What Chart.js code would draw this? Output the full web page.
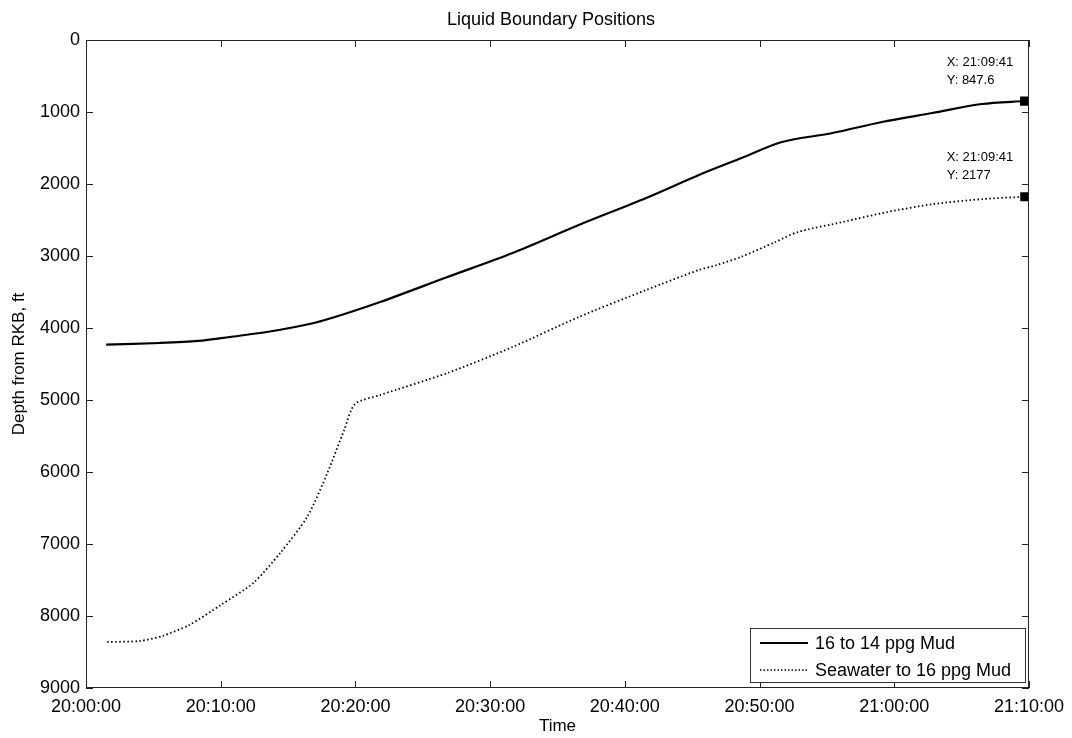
<!DOCTYPE html>
<html>
<head>
<meta charset="utf-8">
<script src="https://cdn.jsdelivr.net/npm/chart.js@4"></script>
<style>
html,body{margin:0;padding:0;background:#fff}
#wrap{width:1072px;height:738px}
</style>
</head>
<body>
<div id="wrap"><canvas id="c"></canvas></div>
<script>
// seconds after 20:00:00
const mudTime=[90,330,500,640,805,1015,1165,1310,1610,1900,2195,2495,2730,2920,3100,3325,3545,3770,3990,4181];
const mudDepth=[4230,4208,4180,4125,4056,3930,3792,3640,3292,2958,2569,2194,1875,1639,1417,1292,1139,1014,889,847.6];
const seaTime=[95,240,340,460,600,745,865,985,1075,1150,1198,1310,1610,1900,2195,2495,2730,2810,2920,3070,3170,3370,3570,3770,3990,4181];
const seaDepth=[8361,8347,8278,8125,7847,7542,7125,6625,6014,5417,5056,4931,4625,4264,3847,3472,3194,3125,3010,2806,2667,2528,2389,2280,2210,2177];
const timeTicks=['20:00:00','20:10:00','20:20:00','20:30:00','20:40:00','20:50:00','21:00:00','21:10:00'];
const seriesNames=['16 to 14 ppg Mud','Seawater to 16 ppg Mud'];
const tipTime='21:09:41';

const FONT='"Liberation Sans", Arial, Helvetica, sans-serif';

function pts(xs,ys){return xs.map((x,i)=>({x:x,y:ys[i]}));}
function lastOnly(r){return function(ctx){return ctx.dataIndex===ctx.dataset.data.length-1?r:0;};}

const decor={
  id:'decor',
  afterDraw(chart){
    const c=chart.ctx, a=chart.chartArea, xs=chart.scales.x, ys=chart.scales.y;
    c.save();
    // box + inward ticks
    c.strokeStyle='#222';c.lineWidth=1;
    c.strokeRect(a.left+0.5,a.top+0.5,a.right-a.left-1,a.bottom-a.top-1);
    xs.ticks.forEach(t=>{
      const px=Math.round(xs.getPixelForValue(t.value))+0.5;
      c.beginPath();c.moveTo(px,a.bottom);c.lineTo(px,a.bottom-7);
      c.moveTo(px,a.top);c.lineTo(px,a.top+7);c.stroke();
    });
    ys.ticks.forEach(t=>{
      const py=Math.round(ys.getPixelForValue(t.value))+0.5;
      c.beginPath();c.moveTo(a.left,py);c.lineTo(a.left+7,py);
      c.moveTo(a.right,py);c.lineTo(a.right-7,py);c.stroke();
    });
    // titles
    c.fillStyle='#000';
    c.font='18px '+FONT;c.textAlign='center';c.textBaseline='middle';
    c.fillText('Liquid Boundary Positions',551,20);
    c.font='17px '+FONT;
    c.fillText('Time',(a.left+a.right)/2,726);
    c.save();c.translate(19,(a.top+a.bottom)/2);c.rotate(-Math.PI/2);
    c.fillText('Depth from RKB, ft',0,0);c.restore();
    // data tips
    c.font='13px '+FONT;c.textAlign='left';c.textBaseline='middle';
    [[mudTime,mudDepth],[seaTime,seaDepth]].forEach(s=>{
      const i=s[0].length-1;
      const px=xs.getPixelForValue(s[0][i]), py=ys.getPixelForValue(s[1][i]);
      c.fillText('X: '+tipTime,px-78,py-39);
      c.fillText('Y: '+s[1][i],px-78,py-21);
    });
    // legend
    const lx=750,ly=628,lw=275,lh=54;
    c.fillStyle='#fff';c.fillRect(lx,ly,lw,lh);
    c.strokeStyle='#333';c.lineWidth=1;c.strokeRect(lx+0.5,ly+0.5,lw,lh);
    c.font='18px '+FONT;c.fillStyle='#000';
    chart.data.datasets.forEach((d,k)=>{
      const yy=ly+15+k*27;
      c.strokeStyle='#000';c.lineWidth=k===0?2:1.5;
      c.setLineDash(k===0?[]:[1.5,2]);
      c.beginPath();c.moveTo(760,yy);c.lineTo(808,yy);c.stroke();
      c.setLineDash([]);
      c.fillText(d.label,815,yy+1);
    });
    c.restore();
  }
};

new Chart(document.getElementById('c'),{
  type:'line',
  data:{datasets:[
    {label:seriesNames[0],data:pts(mudTime,mudDepth),borderColor:'#000',borderWidth:2.2,
     pointStyle:'rect',pointRadius:lastOnly(5),pointBackgroundColor:'#000',pointBorderColor:'#000',tension:0.3},
    {label:seriesNames[1],data:pts(seaTime,seaDepth),borderColor:'#000',borderWidth:1.8,borderDash:[1.5,2.5],
     pointStyle:'rect',pointRadius:lastOnly(5),pointBackgroundColor:'#000',pointBorderColor:'#000',tension:0.25}
  ]},
  options:{
    responsive:true,maintainAspectRatio:false,animation:false,
    layout:{padding:{top:40,right:42,left:0,bottom:0}},
    plugins:{legend:{display:false},tooltip:{enabled:false},title:{display:false}},
    scales:{
      x:{type:'linear',min:0,max:4200,
        grid:{display:false,drawTicks:false},border:{display:false},
        afterFit(s){s.height=50;},
        ticks:{stepSize:600,padding:8,maxRotation:0,autoSkip:false,color:'#000',font:{family:FONT,size:18},
          callback:(v)=>timeTicks[Math.round(v/600)]}},
      y:{type:'linear',reverse:true,min:0,max:9000,
        grid:{display:false,drawTicks:false},border:{display:false},
        afterFit(s){s.width=86;},
        ticks:{stepSize:1000,padding:6,color:'#000',font:{family:FONT,size:18},
          callback:(v)=>String(v)}}
    }
  },
  plugins:[decor]
});
</script>
</body>
</html>
